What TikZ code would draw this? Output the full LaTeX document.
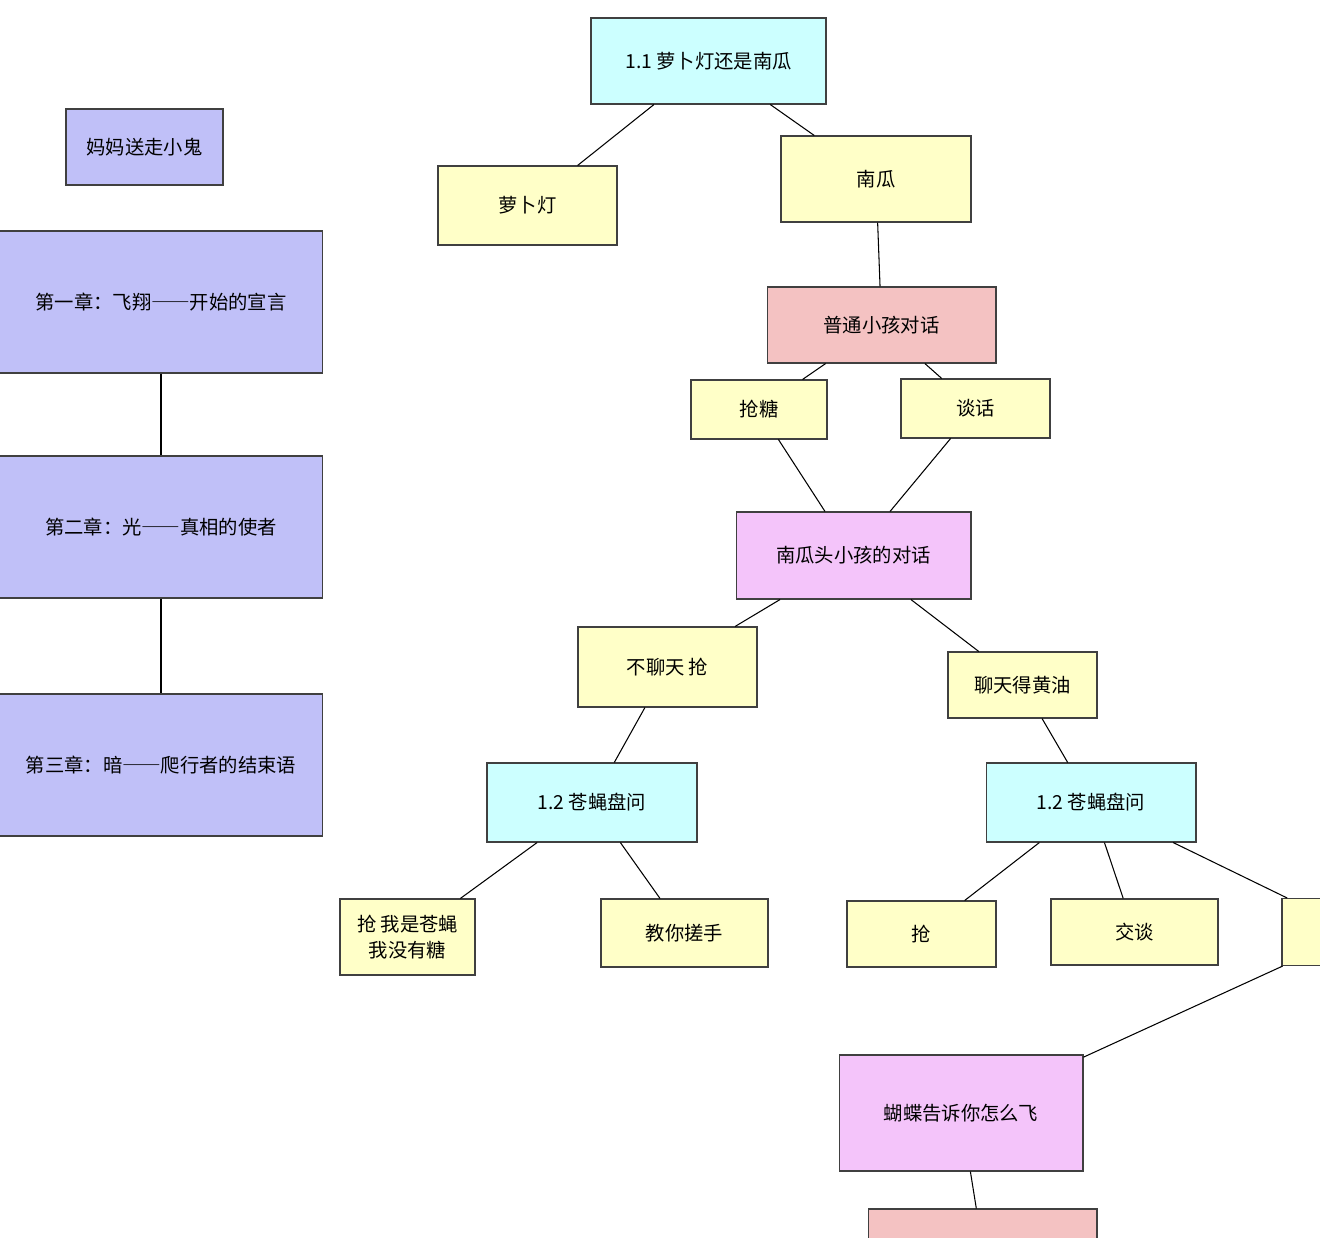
\documentclass[tikz,border=0pt]{standalone}
\usepackage{fontspec}
\setmainfont{Noto Sans CJK SC}
\newfontfamily\fwdash[RawFeature=+fwid]{Noto Sans CJK SC}
\usepackage{tikz}

\definecolor{lavend}{HTML}{C0C0F8}
\definecolor{pale}{HTML}{FFFFC8}
\definecolor{aqua}{HTML}{CCFFFF}
\definecolor{rose}{HTML}{F4C2C2}
\definecolor{orchid}{HTML}{F4C4FA}

\begin{document}
\begin{tikzpicture}[x=0.02cm, y=-0.02cm, box/.style={
  % The shape:
  rectangle,
  % The border
  draw=black!75, line width=0.6pt,
      inner sep=0pt,
      font=\fontsize{11}{15}\selectfont,
      align=center}]
  \useasboundingbox (0,0) rectangle (1320,1238);
  \clip (0,0) rectangle (1320,1238);

  % left column
  \node [fill = lavend, box, minimum width=3.14cm, minimum height=1.52cm] (mama) at (144.5,147) {妈妈送走小鬼};
  \node [fill = lavend, box, minimum width=6.48cm, minimum height=2.84cm] (ch1) at (161,302) {第一章：飞翔{\fwdash ——}开始的宣言};
  \node [fill = lavend, box, minimum width=6.48cm, minimum height=2.84cm] (ch2) at (161,527) {第二章：光{\fwdash ——}真相的使者};
  \node [fill = lavend, box, minimum width=6.48cm, minimum height=2.84cm] (ch3) at (161,765) {第三章：暗{\fwdash ——}爬行者的结束语};

  % main tree
  \node [fill = aqua, box, minimum width=4.7cm, minimum height=1.72cm] (q11) at (708.5,61) {1.1 萝卜灯还是南瓜};
  \node [fill = pale, box, minimum width=3.58cm, minimum height=1.58cm] (luobo) at (527.5,205.5) {萝卜灯};
  \node [fill = pale, box, minimum width=3.8cm, minimum height=1.72cm] (nangua) at (876,179) {南瓜};
  \node [fill = rose, box, minimum width=4.58cm, minimum height=1.52cm] (putong) at (881.5,325) {普通小孩对话};
  \node [fill = pale, box, minimum width=2.72cm, minimum height=1.18cm] (qiangtang) at (759,409.5) {抢糖};
  \node [fill = pale, box, minimum width=2.98cm, minimum height=1.18cm] (tanhua) at (975.5,408.5) {谈话};
  \node [fill = orchid, box, minimum width=4.7cm, minimum height=1.74cm] (ngtou) at (853.5,555.5) {南瓜头小孩的对话};
  \node [fill = pale, box, minimum width=3.58cm, minimum height=1.6cm] (buliao) at (667.5,667) {不聊天 抢};
  \node [fill = pale, box, minimum width=2.98cm, minimum height=1.32cm] (liaotian) at (1022.5,685) {聊天得黄油};
  \node [fill = aqua, box, minimum width=4.2cm, minimum height=1.58cm] (q12a) at (592,802.5) {1.2 苍蝇盘问};
  \node [fill = aqua, box, minimum width=4.2cm, minimum height=1.58cm] (q12b) at (1091,802.5) {1.2 苍蝇盘问};
  \node [fill = pale, box, minimum width=2.7cm, minimum height=1.52cm] (qianga) at (407.5,937) {抢 我是苍蝇\\我没有糖};
  \node [fill = pale, box, minimum width=3.34cm, minimum height=1.36cm] (cuoshou) at (684.5,933) {教你搓手};
  \node [fill = pale, box, minimum width=2.98cm, minimum height=1.32cm] (qiangb) at (921.5,934) {抢};
  \node [fill = pale, box, minimum width=3.34cm, minimum height=1.32cm] (jiaotan) at (1134.5,932) {交谈};
  \node [fill = pale, box, minimum width=3.0cm, minimum height=1.34cm] (edge) at (1357,932) {};
  \node [fill = orchid, box, minimum width=4.88cm, minimum height=2.32cm] (hudie) at (961,1113) {蝴蝶告诉你怎么飞};
  \node [fill = rose, box, minimum width=4.58cm, minimum height=1.52cm] (bottom) at (982.5,1247) {};

  \draw [line width=0.6pt] (ch1) -- (ch2);
  \draw [line width=0.6pt] (ch2) -- (ch3);
  \draw [line width=0.6pt] (q11) -- (luobo);
  \draw [line width=0.6pt] (q11) -- (nangua);
  \draw [line width=0.6pt] (nangua) -- (putong);
  \draw [line width=0.6pt] (putong) -- (qiangtang);
  \draw [line width=0.6pt] (putong) -- (tanhua);
  \draw [line width=0.6pt] (qiangtang) -- (ngtou);
  \draw [line width=0.6pt] (tanhua) -- (ngtou);
  \draw [line width=0.6pt] (ngtou) -- (buliao);
  \draw [line width=0.6pt] (ngtou) -- (liaotian);
  \draw [line width=0.6pt] (buliao) -- (q12a);
  \draw [line width=0.6pt] (liaotian) -- (q12b);
  \draw [line width=0.6pt] (q12a) -- (qianga);
  \draw [line width=0.6pt] (q12a) -- (cuoshou);
  \draw [line width=0.6pt] (q12b) -- (qiangb);
  \draw [line width=0.6pt] (q12b) -- (jiaotan);
  \draw [line width=0.6pt] (q12b) -- (edge);
  \draw [line width=0.6pt] (edge) -- (hudie);
  \draw [line width=0.6pt] (hudie) -- (bottom);

\end{tikzpicture}
\end{document}
